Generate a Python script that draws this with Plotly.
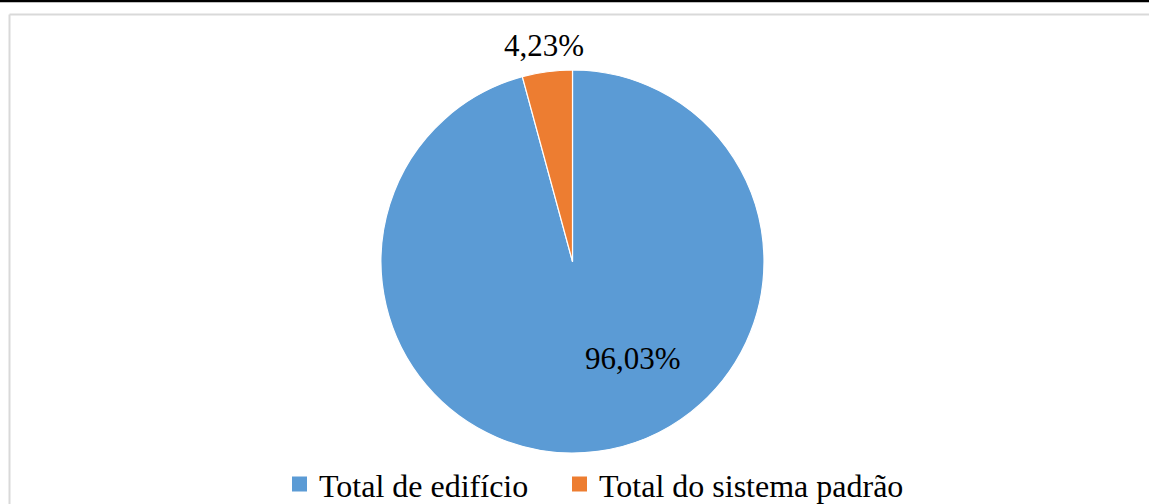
import math
import plotly.graph_objects as go

# Share of total consumption
categories = ["Total de edifício", "Total do sistema padrão"]
values = [96.03, 4.23]
colors = ["#5B9BD5", "#ED7D31"]

W, H = 1149, 504
FONT = "Liberation Serif"

# pie placement in pixels
cx, cy, r = 572.5, 261.5, 191.5

fig = go.Figure(
    go.Pie(
        labels=categories,
        values=values,
        marker=dict(colors=colors, line=dict(color="white", width=1.2)),
        sort=False,
        direction="clockwise",
        rotation=0,
        textinfo="none",
        hoverinfo="label+percent",
        showlegend=False,
        domain=dict(x=[(cx - r) / W, (cx + r) / W], y=[1 - (cy + r) / H, 1 - (cy - r) / H]),
    )
)


def fmt(v):
    return f"{v:.2f}".replace(".", ",") + "%"


def px_x(x):
    return x / W


def px_y(y):
    return 1 - y / H


# data labels: (angle clockwise from 12 o'clock, radius fraction)
total = sum(values)
mid_orange = 360 * (values[0] + values[1] / 2) / total
label_pos = [(148.0, 0.595), (mid_orange, 1.14)]

for v, (ang, f) in zip(values, label_pos):
    a = math.radians(ang)
    fig.add_annotation(
        x=px_x(cx + f * r * math.sin(a)), y=px_y(cy - f * r * math.cos(a)),
        xref="paper", yref="paper",
        text=fmt(v), showarrow=False, xanchor="center", yanchor="middle",
        font=dict(family=FONT, size=31, color="black"),
    )

# legend row at the bottom: square swatch followed by the category name
legend_left = [292, 572]
legend_mid = 484
swatch = 15
for name, col, x0 in zip(categories, colors, legend_left):
    fig.add_shape(
        type="rect", xref="paper", yref="paper",
        x0=px_x(x0), x1=px_x(x0 + swatch),
        y0=px_y(legend_mid + swatch / 2), y1=px_y(legend_mid - swatch / 2),
        fillcolor=col, line=dict(width=0),
    )
    fig.add_annotation(
        x=px_x(x0 + swatch + 10), y=px_y(legend_mid + 2), xref="paper", yref="paper",
        text=name, showarrow=False, xanchor="left", yanchor="middle",
        font=dict(family=FONT, size=32, color="black"),
    )

# chart frame and top rule
fig.add_shape(type="line", xref="paper", yref="paper", x0=0, x1=1, y0=px_y(1), y1=px_y(1),
              line=dict(color="black", width=2.5))
fig.add_shape(type="line", xref="paper", yref="paper", x0=px_x(9.5), x1=1, y0=px_y(14.5), y1=px_y(14.5),
              line=dict(color="#D9D9D9", width=2))
fig.add_shape(type="line", xref="paper", yref="paper", x0=px_x(9.5), x1=px_x(9.5), y0=0, y1=px_y(14.5),
              line=dict(color="#D9D9D9", width=2))

fig.update_layout(
    width=W, height=H,
    margin=dict(l=0, r=0, t=0, b=0, autoexpand=False),
    paper_bgcolor="white",
    plot_bgcolor="white",
    showlegend=False,
)

fig.write_html("out.html")
